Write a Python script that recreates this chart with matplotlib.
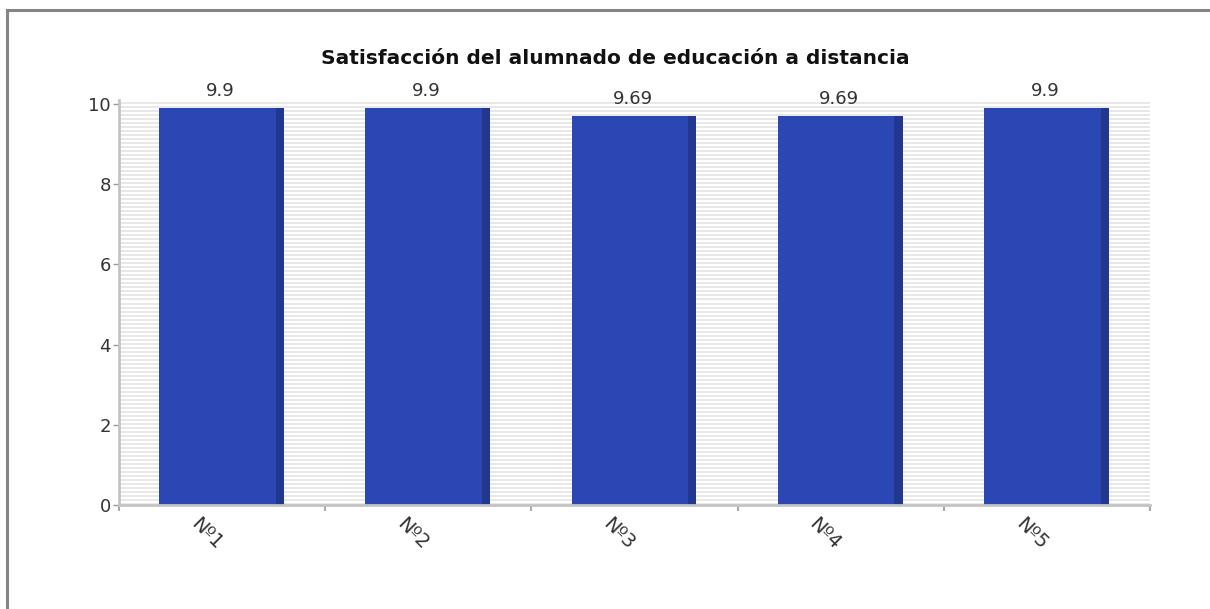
import numpy as np
import matplotlib.pyplot as plt
from matplotlib.lines import Line2D

categories = ['Nº1', 'Nº2', 'Nº3', 'Nº4', 'Nº5']
values = [9.9, 9.9, 9.69, 9.69, 9.9]
value_labels = ['9.9', '9.9', '9.69', '9.69', '9.9']
title = 'Satisfacción del alumnado de educación a distancia'

fig = plt.figure(figsize=(12.1, 6.09), dpi=100)
fig.patch.set_facecolor('white')

# outer border (only top and left visible)
fig.add_artist(Line2D([6.5 / 1210, 6.5 / 1210], [0, 1 - 10 / 609], color='#858585', lw=2.2))
fig.add_artist(Line2D([6.5 / 1210, 1], [1 - 10 / 609, 1 - 10 / 609], color='#858585', lw=2.2))

ax = fig.add_axes([119 / 1210, 1 - 505 / 609, (1150 - 119) / 1210, (505 - 100) / 609])
ymax = 10.1

# striped background
n = 202
stripes = np.array([[0.0] if i % 2 == 0 else [1.0] for i in range(n)])
ax.imshow(stripes, extent=(-0.5, 4.5, 0, ymax), aspect='auto', cmap='gray',
          vmin=-10, vmax=1.03, interpolation='nearest', origin='lower', zorder=0)
ax.set_xlim(-0.5, 4.5)
ax.set_ylim(0, ymax)

x = np.arange(len(categories))
ax.bar(x - 0.305, values, width=0.565, align='edge', color='#2b47b3', zorder=2)
ax.bar(x + 0.26, values, width=0.04, align='edge', color='#22388f', zorder=2)

for xi, v, lab in zip(x, values, value_labels):
    ax.annotate(lab, (xi - 0.01, v), xytext=(0, 6), textcoords='offset points',
                ha='center', va='bottom', fontsize=13, color='#333333')

for side in ['top', 'right']:
    ax.spines[side].set_visible(False)
for side in ['left', 'bottom']:
    ax.spines[side].set_color('#c4c4c4')
    ax.spines[side].set_linewidth(2)

ax.set_yticks([0, 2, 4, 6, 8, 10])
ax.tick_params(axis='y', length=4, width=1, color='#999999', labelsize=13, labelcolor='#333333', pad=2)
ax.set_xticks(np.arange(-0.5, 5, 1.0))
ax.set_xticklabels([])
ax.tick_params(axis='x', length=4, width=1.5, color='#aaaaaa')

for xi, cat in zip(x, categories):
    ax.text(xi - 0.075, -0.022, cat, transform=ax.get_xaxis_transform(),
            rotation=-45, ha='center', va='top', fontsize=14, color='#333333')

fig.text(615 / 1210, 1 - 58 / 609, title, ha='center', va='center',
         fontsize=14.5, fontweight='bold', color='#111111')

fig.savefig('out.png', dpi=100)
